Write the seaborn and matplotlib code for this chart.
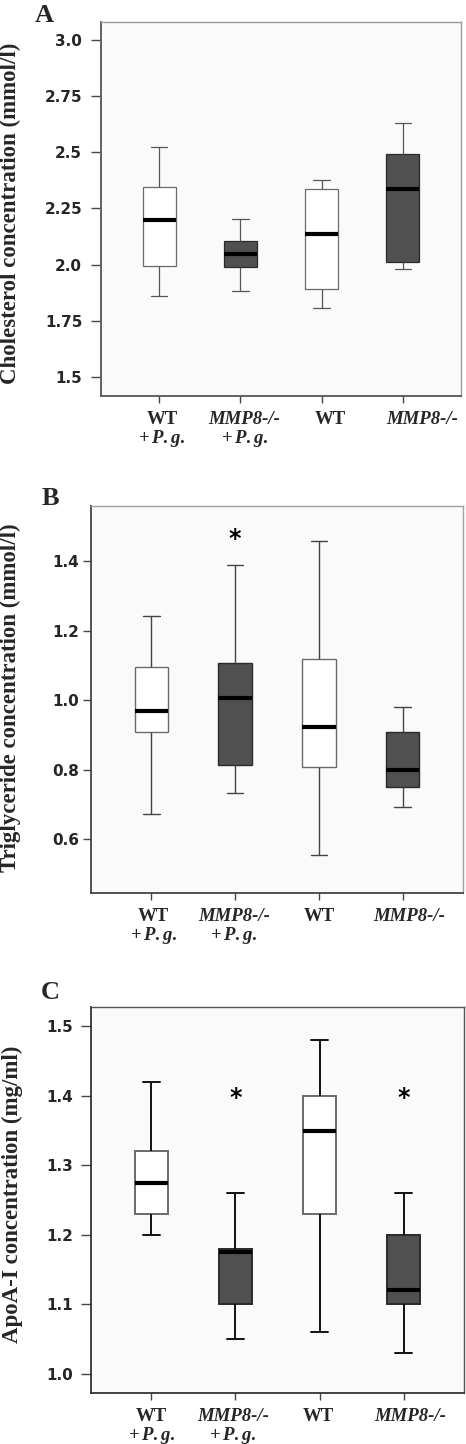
import numpy as np
import pandas as pd
import matplotlib
matplotlib.use("Agg")
import matplotlib.pyplot as plt
import seaborn as sns

groups = ["WT + P.g.", "MMP8-/- + P.g.", "WT", "MMP8-/-"]
line1 = ["WT", "MMP8-/-", "WT", "MMP8-/-"]
has_pg = [True, True, False, False]

# five-number summaries: low whisker, Q1, median, Q3, high whisker
chol_wt_pg = [1.862, 1.995, 2.20, 2.344, 2.522]
chol_mmp8_pg = [1.882, 1.99, 2.049, 2.107, 2.202]
chol_wt = [1.808, 1.89, 2.138, 2.335, 2.375]
chol_mmp8 = [1.98, 2.01, 2.336, 2.494, 2.63]

tg_wt_pg = [0.672, 0.909, 0.969, 1.095, 1.242]
tg_mmp8_pg = [0.733, 0.814, 1.006, 1.108, 1.388]
tg_wt = [0.555, 0.809, 0.924, 1.120, 1.458]
tg_mmp8 = [0.693, 0.750, 0.799, 0.909, 0.981]

apoa_wt_pg = [1.20, 1.23, 1.275, 1.32, 1.42]
apoa_mmp8_pg = [1.05, 1.10, 1.175, 1.18, 1.26]
apoa_wt = [1.06, 1.23, 1.35, 1.40, 1.48]
apoa_mmp8 = [1.03, 1.10, 1.12, 1.20, 1.26]

chol_ticks = [1.5, 1.75, 2.0, 2.25, 2.5, 2.75, 3.0]
chol_ticklabels = ["1.5", "1.75", "2.0", "2.25", "2.5", "2.75", "3.0"]
tg_ticks = [0.6, 0.8, 1.0, 1.2, 1.4]
tg_ticklabels = ["0.6", "0.8", "1.0", "1.2", "1.4"]
apoa_ticks = [1.0, 1.1, 1.2, 1.3, 1.4, 1.5]
apoa_ticklabels = ["1.0", "1.1", "1.2", "1.3", "1.4", "1.5"]

tg_star_groups = [1]
tg_star_y = 1.47
apoa_star_groups = [1, 3]
apoa_star_y = 1.40

sns.set_theme(style="ticks")
plt.rcParams["font.family"] = ["Liberation Serif", "DejaVu Serif"]
plt.rcParams["mathtext.fontset"] = "custom"
plt.rcParams["mathtext.rm"] = "Liberation Serif:bold"
plt.rcParams["mathtext.it"] = "Liberation Serif:italic:bold"

palette = {groups[0]: "white", groups[1]: "#505050",
           groups[2]: "white", groups[3]: "#505050"}

fig = plt.figure(figsize=(4.66, 14.44), dpi=100)
W, H = 466, 1444


def add_ax(left, top, right, bottom):
    return fig.add_axes([left / W, 1 - bottom / H, (right - left) / W, (bottom - top) / H])


def panel(ax, vals, ylim, ticks, ticklabels, line_c, lw, tick_len, tick_pad,
          spine_dark, spine_light, label_dx):
    df = pd.DataFrame({"group": np.repeat(groups, 5), "value": np.concatenate(vals)})
    sns.boxplot(data=df, x="group", y="value", hue="group", order=groups,
                hue_order=groups, palette=palette, saturation=1, width=0.4,
                whis=(0, 100), linecolor=line_c, linewidth=lw, legend=False,
                medianprops=dict(color="black", linewidth=3.0), ax=ax)
    for p in ax.patches:
        fc = p.get_facecolor()
        if fc[0] > 0.9:
            p.set_edgecolor("#6a6a6a")
        else:
            p.set_edgecolor("#2a2a2a")
    ax.set_facecolor("#fafafa")
    ax.set_xlim(-0.72, 3.72)
    ax.set_ylim(*ylim)
    ax.set_xlabel("")
    ax.set_ylabel("")
    ax.set_yticks(ticks)
    ax.set_yticklabels(ticklabels, fontsize=11, fontweight="bold", family="DejaVu Sans")
    ax.set_xticks(range(4))
    ax.set_xticklabels([""] * 4)
    ax.tick_params(axis="y", length=tick_len, width=1.0, pad=tick_pad, color="#444")
    ax.tick_params(axis="x", length=5, width=1.0, color="#444")
    for s in ["left", "bottom"]:
        ax.spines[s].set_color(spine_dark)
        ax.spines[s].set_linewidth(1.3)
    for s in ["top", "right"]:
        ax.spines[s].set_visible(True)
        ax.spines[s].set_color(spine_light)
        ax.spines[s].set_linewidth(1.0)
    for i in range(4):
        ax.annotate(line1[i], xy=(i, 0), xycoords=("data", "axes fraction"),
                    xytext=(label_dx[i], -20.2), textcoords="offset points",
                    ha="center", va="baseline", fontsize=13.5, fontweight="bold",
                    fontstyle="italic" if "MMP8" in line1[i] else "normal")
        if has_pg[i]:
            ax.annotate("+$\\mathit{\\,P.g.}$", xy=(i, 0), xycoords=("data", "axes fraction"),
                        xytext=(label_dx[i], -34.0), textcoords="offset points",
                        ha="center", va="baseline", fontsize=13.5, fontweight="bold")


def stars(ax, idx, y):
    for i in idx:
        ax.annotate("*", xy=(i, y), xytext=(0, -6.5), textcoords="offset points",
                    ha="center", va="baseline", fontsize=17, fontweight="bold",
                    family="DejaVu Sans", color="black")


# panel A
axA = add_ax(101, 22, 461, 396)
panel(axA, [chol_wt_pg, chol_mmp8_pg, chol_wt, chol_mmp8], (1.415, 3.08),
      chol_ticks, chol_ticklabels, "#555555", 0.9, 7, 6.5, "#555555", "#9a9a9a",
      [2, 3, 6, 14])

# panel B
axB = add_ax(91, 506, 463, 893)
panel(axB, [tg_wt_pg, tg_mmp8_pg, tg_wt, tg_mmp8], (0.446, 1.559),
      tg_ticks, tg_ticklabels, "#444444", 1.0, 6, 2.5, "#444444", "#a0a0a0",
      [1.5, -1, 0, 5])
stars(axB, tg_star_groups, tg_star_y)

# panel C
axC = add_ax(91, 1007, 464, 1393)
panel(axC, [apoa_wt_pg, apoa_mmp8_pg, apoa_wt, apoa_mmp8], (0.972, 1.528),
      apoa_ticks, apoa_ticklabels, "#111111", 1.4, 7.5, 5.5, "#333333", "#555555",
      [0, -2, -1, 5])
stars(axC, apoa_star_groups, apoa_star_y)

# y labels and panel letters
fig.text(10 / W, 1 - 213 / H, "Cholesterol concentration (mmol/l)", rotation=90,
         ha="center", va="center", fontsize=16.5, fontweight="bold")
fig.text(10 / W, 1 - 698 / H, "Triglyceride concentration (mmol/l)", rotation=90,
         ha="center", va="center", fontsize=16.5, fontweight="bold")
fig.text(12 / W, 1 - 1194 / H, "ApoA-I concentration (mg/ml)", rotation=90,
         ha="center", va="center", fontsize=16.5, fontweight="bold")

fig.text(44.5 / W, 1 - 21.7 / H, "A", ha="center", va="baseline", fontsize=19, fontweight="bold")
fig.text(50 / W, 1 - 505 / H, "B", ha="center", va="baseline", fontsize=19, fontweight="bold")
fig.text(50 / W, 1 - 999 / H, "C", ha="center", va="baseline", fontsize=19, fontweight="bold")

fig.savefig("out.png", dpi=100)
